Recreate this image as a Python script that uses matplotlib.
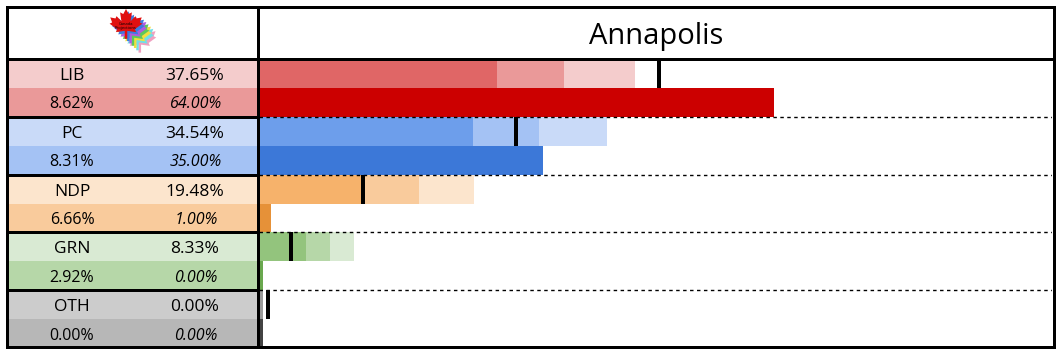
import matplotlib
matplotlib.use("Agg")
import matplotlib.pyplot as plt
from matplotlib.patches import Rectangle, Polygon
import numpy as np

plt.rcParams['font.family'] = ['Open Sans', 'DejaVu Sans']

# ---------------- data ----------------
title = "Annapolis"
parties = ["LIB", "PC", "NDP", "GRN", "OTH"]
vote_proj = [37.65, 34.54, 19.48, 8.33, 0.00]
vote_low = [29.3, 26.3, 12.3, 5.3, 0.0]
vote_high = [46.5, 43.0, 26.4, 11.4, 0.0]
prev_result = [49.6, 31.6, 12.5, 3.5, 0.6]
vote_margin = [8.62, 8.31, 6.66, 2.92, 0.00]
win_prob = [64.00, 35.00, 1.00, 0.00, 0.00]

col_dark = ["#E06666", "#6D9EEB", "#F6B26B", "#93C47D", "#999999"]
col_mid = ["#EA9999", "#A4C2F4", "#F9CB9C", "#B6D7A8", "#B7B7B7"]
col_light = ["#F4CCCC", "#C9DAF8", "#FCE5CD", "#D9EAD3", "#CCCCCC"]
col_seat = ["#CC0000", "#3C78D8", "#E69138", "#6AA84F", "#434343"]

# ---------------- layout ----------------
W, H = 1060, 353
DPI = 100
fig = plt.figure(figsize=(W / DPI, H / DPI), dpi=DPI)
PX = 72.0 / DPI  # points per pixel

# background / table axes in pixel coords
axt = fig.add_axes([0, 0, 1, 1])
axt.set_xlim(0, W)
axt.set_ylim(H, 0)
axt.axis("off")

top_y, bot_y = 59.0, 348.0
blk = (bot_y - top_y) / len(parties)
xl0, xl1 = 8, 257.5

for i, p in enumerate(parties):
    y0 = top_y + i * blk
    axt.add_patch(Rectangle((xl0, y0), xl1 - xl0, blk / 2, color=col_light[i], lw=0))
    axt.add_patch(Rectangle((xl0, y0 + blk / 2), xl1 - xl0, blk / 2, color=col_mid[i], lw=0))
    cy1 = y0 + blk / 4
    cy2 = y0 + 3 * blk / 4
    axt.text(72, cy1 + 6.5, p, ha="center", va="baseline", fontsize=12.5)
    axt.text(195, cy1 + 6.5, f"{vote_proj[i]:.2f}%", ha="center", va="baseline", fontsize=12.5)
    axt.text(72, cy2 + 6, f"{vote_margin[i]:.2f}%", ha="center", va="baseline", fontsize=11.5)
    axt.text(196, cy2 + 6, f"{win_prob[i]:.2f}%", ha="center", va="baseline",
             fontsize=11.5, style="italic")

# title
axt.text(656, 44, title, ha="center", va="baseline", fontsize=21)

# logo: simple maple leaf with offset coloured copies
leaf = np.array([
    (0.0, 1.0), (0.13, 0.76), (0.28, 0.84), (0.22, 0.42), (0.45, 0.66),
    (0.5, 0.55), (0.75, 0.6), (0.66, 0.36), (0.78, 0.3), (0.42, 0.04),
    (0.48, -0.1), (0.06, -0.04), (0.06, -0.42), (-0.06, -0.42), (-0.06, -0.04),
    (-0.48, -0.1), (-0.42, 0.04), (-0.78, 0.3), (-0.66, 0.36), (-0.75, 0.6),
    (-0.5, 0.55), (-0.45, 0.66), (-0.22, 0.42), (-0.28, 0.84), (-0.13, 0.76),
])
lx, ly, ls = 126, 30, 21
logo_cols = ["#3D7BE0", "#B05BE0", "#5CC85C", "#F0E040", "#6FE0E8", "#F0A0C0"]
n = len(logo_cols)
for k, c in enumerate(logo_cols[::-1]):
    off = (n - k) * 2.3
    pts = np.column_stack([lx + leaf[:, 0] * ls + off, ly - leaf[:, 1] * ls + off])
    axt.add_patch(Polygon(pts, closed=True, color=c, lw=0))
pts = np.column_stack([lx + leaf[:, 0] * ls, ly - leaf[:, 1] * ls])
axt.add_patch(Polygon(pts, closed=True, color="#E01010", lw=0))
axt.text(lx, ly - 4, "Canada\nProjections", ha="center", va="center",
         fontsize=3.0, linespacing=0.9, color="black")

# ---------------- bar axes ----------------
bx0, bx1 = 259.0, 1052.0
axb = fig.add_axes([bx0 / W, (H - bot_y) / H, (bx1 - bx0) / W, (bot_y - top_y) / H])
axb.set_facecolor("white")
X0, X1 = -0.56, 98.8
axb.set_xlim(X0, X1)
axb.set_ylim(len(parties), 0)
axb.axis("off")

for i in range(len(parties)):
    yv = i + 0.25
    ys = i + 0.75
    axb.barh(yv, vote_high[i] - X0, left=X0, height=0.5, color=col_light[i], lw=0)
    axb.barh(yv, vote_proj[i] - X0, left=X0, height=0.5, color=col_mid[i], lw=0)
    axb.barh(yv, vote_low[i] - X0, left=X0, height=0.5, color=col_dark[i], lw=0)
    axb.barh(ys, win_prob[i] - X0, left=X0, height=0.5, color=col_seat[i], lw=0)
    axb.vlines(prev_result[i], i, i + 0.5, color="black", lw=4 * PX)

for i in range(1, len(parties)):
    axb.axhline(i, color="black", lw=1.0, linestyle=(0, (2.5, 2.5)))

# ---------------- overlay frame lines ----------------
axo = fig.add_axes([0, 0, 1, 1])
axo.set_xlim(0, W)
axo.set_ylim(H, 0)
axo.axis("off")
axo.patch.set_alpha(0)
lw3 = 3 * PX
axo.add_patch(Rectangle((6.5, 6.5), 1047, 340, fill=False, lw=lw3, ec="black"))
axo.plot([257.5, 257.5], [6.5, 346.5], color="black", lw=lw3, solid_capstyle="butt")
axo.plot([6.5, 1053.5], [58.5, 58.5], color="black", lw=lw3, solid_capstyle="butt")
for i in range(1, len(parties)):
    y = top_y + i * blk
    axo.plot([6.5, 257.5], [y, y], color="black", lw=lw3, solid_capstyle="butt")

fig.savefig("out.png", dpi=DPI)
